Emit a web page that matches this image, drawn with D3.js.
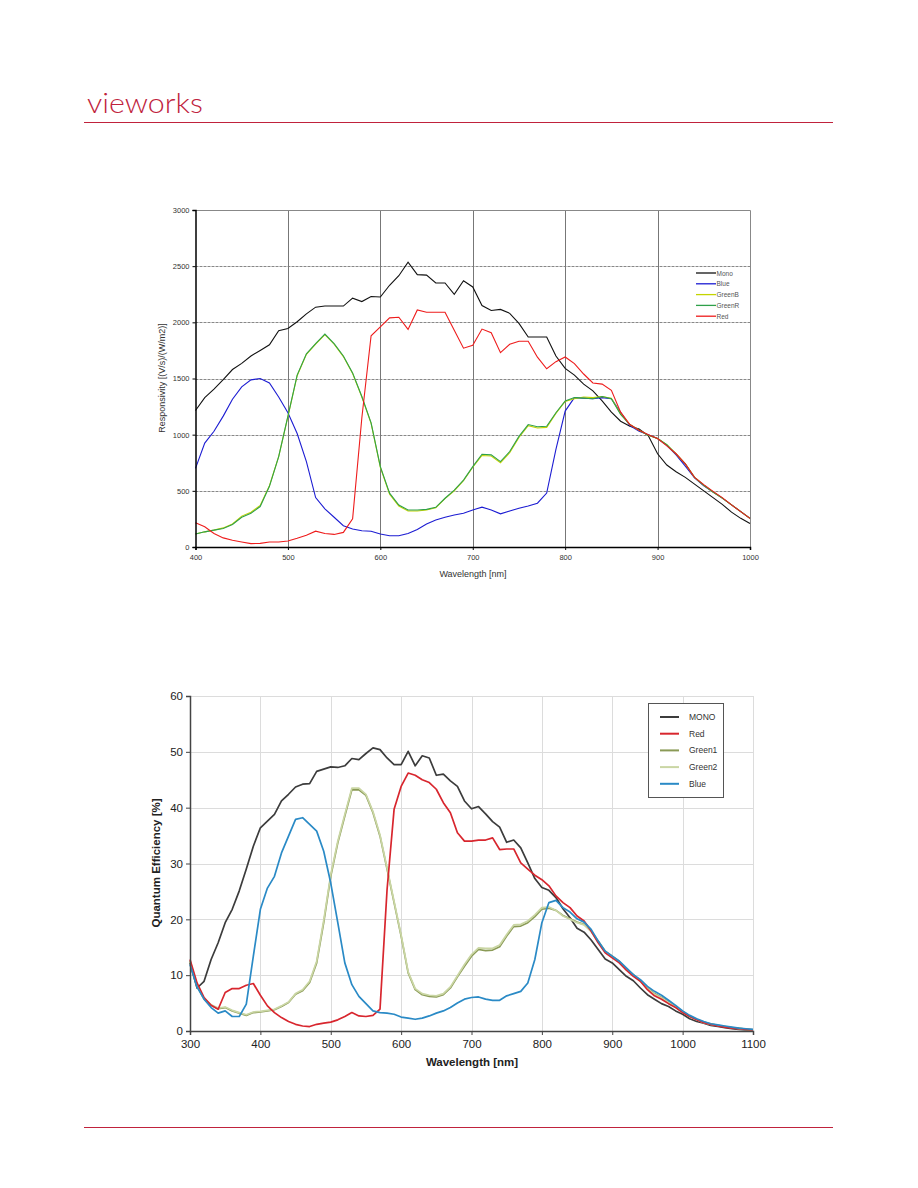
<!DOCTYPE html>
<html><head><meta charset="utf-8">
<script src="https://cdn.jsdelivr.net/npm/d3@7"></script>
<style>body{margin:0;background:#fff}svg{display:block}</style>
</head><body>
<svg id="c" width="918" height="1188"></svg>
<script>
// ---------- Top chart data (Responsivity), 400..1000 nm step 10 ----------
const wlTop = d3.range(400, 1001, 10);
const topMono = [1215,1330,1405,1490,1580,1635,1700,1750,1800,1925,1945,2005,2075,2135,2145,2145,2145,2215,2185,2230,2225,2330,2415,2535,2425,2420,2350,2350,2250,2370,2315,2150,2105,2115,2080,1990,1870,1870,1870,1700,1590,1530,1450,1390,1300,1200,1120,1075,1050,990,830,730,670,620,560,500,440,380,310,255,210];
const topBlue = [700,925,1030,1165,1315,1425,1488,1500,1460,1335,1195,1010,760,440,340,265,190,160,145,140,115,100,100,120,155,205,240,265,285,300,330,355,330,295,320,345,365,390,480,870,1210,1330,1325,1320,1330,1320,1200,1080,1030,1000,965,905,820,720,615,545,490,435,375,315,255];
const topGreenB = [115,135,150,170,205,275,310,370,545,805,1160,1525,1715,1805,1890,1805,1695,1545,1335,1100,710,470,365,320,320,330,350,430,500,590,710,815,810,750,840,975,1080,1060,1065,1190,1295,1320,1335,1330,1340,1325,1185,1090,1040,995,965,910,830,740,620,550,490,435,375,315,255];
const topGreenR = [115,135,150,165,200,265,300,360,540,805,1165,1530,1720,1810,1895,1810,1700,1550,1340,1105,716,479,374,330,330,335,353,434,506,596,716,826,820,760,850,985,1090,1070,1075,1195,1300,1330,1325,1320,1340,1320,1180,1090,1040,995,965,910,830,740,620,550,490,435,375,315,255];
const topRed = [216,180,120,81,60,45,30,32,45,45,54,78,105,141,120,112,130,250,1150,1880,1960,2040,2045,1937,2110,2090,2090,2090,1930,1770,1796,1940,1907,1730,1805,1832,1832,1690,1587,1650,1692,1632,1540,1460,1450,1395,1200,1090,1040,1000,965,900,830,740,620,555,495,440,375,315,255];
const topSeriesNames = ["Mono","Blue","GreenB","GreenR","Red"];
const topSeriesColors = ["#111111","#1c1cd2","#c4d400","#2fa04a","#ee1c1c"];
const topXTicks = [400,500,600,700,800,900,1000];
const topYTicks = [0,500,1000,1500,2000,2500,3000];

// ---------- Bottom chart data (Quantum Efficiency), 300..1100 nm step 10 ----------
const wlBot = d3.range(300, 1101, 10);
const qeMono = [12.2,7.7,8.9,12.8,15.8,19.4,21.8,25.1,29.0,33.1,36.4,37.6,38.8,41.2,42.4,43.7,44.2,44.3,46.5,46.9,47.3,47.2,47.5,48.8,48.6,49.7,50.7,50.4,48.9,47.7,47.7,50.1,47.5,49.3,48.9,45.8,46.0,44.8,43.8,41.2,39.8,40.2,38.9,37.5,36.5,33.8,34.2,32.8,30.1,27.3,25.7,25.2,23.9,21.9,20.3,18.4,17.7,16.3,14.6,12.9,12.2,11.0,9.8,9.0,7.7,6.5,5.7,4.9,4.4,3.6,3.0,2.2,1.7,1.4,1.0,0.8,0.6,0.4,0.3,0.2,0.1];
const qeRed = [12.8,8.6,6.0,4.6,3.9,6.9,7.6,7.6,8.2,8.5,6.4,4.5,3.3,2.4,1.7,1.2,0.9,0.8,1.2,1.4,1.6,2.0,2.6,3.3,2.7,2.6,2.8,3.9,25.3,39.7,43.8,46.2,45.8,45.0,44.5,43.3,40.9,39.1,35.5,34.0,34.0,34.2,34.2,34.6,32.5,32.6,32.6,30.1,29.0,27.9,27.1,26.0,24.2,23.0,22.1,20.6,19.7,17.9,15.8,14.0,13.1,12.2,10.9,9.8,8.9,7.4,6.3,5.7,4.9,4.2,3.3,2.6,2.0,1.5,1.2,0.9,0.7,0.5,0.4,0.3,0.2];
const qeGreen1 = [12.5,8.0,5.7,4.6,4.0,4.2,3.6,3.2,2.8,3.3,3.4,3.6,3.8,4.4,5.1,6.6,7.2,8.7,12.2,19.4,27.7,33.7,38.5,43.2,43.2,42.2,39.1,34.9,29.0,23.0,17.0,10.4,7.4,6.5,6.2,6.1,6.5,7.7,9.7,11.6,13.4,14.6,14.4,14.5,15.1,17.0,18.7,18.8,19.4,20.5,21.8,22.0,21.6,20.7,20.1,19.5,19.1,17.9,16.1,14.3,13.4,12.5,11.1,10.1,9.0,7.7,6.7,6.0,5.2,4.4,3.5,2.7,2.1,1.6,1.3,1.0,0.8,0.6,0.5,0.3,0.2];
const qeGreen2 = [12.6,8.1,5.8,4.7,4.1,4.3,3.7,3.3,2.9,3.4,3.5,3.7,3.9,4.5,5.2,6.7,7.4,8.9,12.5,19.8,28.0,34.0,38.8,43.5,43.5,42.4,39.3,35.1,29.2,23.2,17.2,10.6,7.6,6.7,6.4,6.3,6.7,7.9,9.9,11.9,13.7,14.9,14.8,14.8,15.4,17.3,19.0,19.1,19.7,20.8,22.1,22.2,21.6,20.6,20.0,19.4,19.0,17.8,16.0,14.2,13.3,12.4,11.0,10.0,8.9,7.6,6.6,5.9,5.1,4.3,3.4,2.6,2.0,1.5,1.2,1.0,0.8,0.6,0.4,0.3,0.2];
const qeBlue = [11.9,7.9,5.7,4.2,3.2,3.6,2.6,2.6,4.8,13.4,21.8,25.6,27.7,31.9,34.9,37.9,38.2,37.0,35.8,32.2,26.5,19.4,12.2,8.3,6.2,4.9,3.6,3.3,3.2,3.0,2.5,2.3,2.1,2.3,2.7,3.2,3.6,4.2,5.0,5.7,6.0,6.1,5.7,5.5,5.5,6.3,6.7,7.1,8.6,12.8,19.4,23.0,23.4,22.1,21.3,20.1,19.5,18.2,16.1,14.3,13.4,12.5,11.3,10.1,9.2,8.0,7.1,6.4,5.5,4.6,3.6,2.8,2.2,1.7,1.3,1.1,0.9,0.7,0.5,0.4,0.3];
const botSeriesNames = ["MONO","Red","Green1","Green2","Blue"];
const botSeriesColors = ["#3c3c3c","#d8262e","#8a9a56","#cad6a4","#2a8ac6"];
const botXTicks = [300,400,500,600,700,800,900,1000,1100];
const botYTicks = [0,10,20,30,40,50,60];

const svg = d3.select("#c");
const brand = "#c0223c";

// ---------- Header / footer ----------
svg.append("text").attr("x",87).attr("y",113).attr("font-family","Lato, 'Open Sans', sans-serif")
  .attr("font-size",28).attr("font-weight",300).attr("fill",brand).attr("textLength",116).attr("lengthAdjust","spacingAndGlyphs")
  .text("vieworks");
svg.append("line").attr("x1",84).attr("x2",833).attr("y1",122.5).attr("y2",122.5).attr("stroke",brand).attr("stroke-width",1);
svg.append("line").attr("x1",84).attr("x2",833).attr("y1",1127.5).attr("y2",1127.5).attr("stroke",brand).attr("stroke-width",1);

// ---------- Top chart ----------
(function(){
  const L=195.5, R=750, T=210, B=547;
  const x = d3.scaleLinear().domain([400,1000]).range([L,R]);
  const y = d3.scaleLinear().domain([0,3000]).range([B,T]);
  const g = svg.append("g");
  g.selectAll(".hg").data(topYTicks.filter(v=>v>0&&v<3000)).enter().append("line")
    .attr("x1",L).attr("x2",R).attr("y1",d=>Math.round(y(d))+0.5).attr("y2",d=>Math.round(y(d))+0.5)
    .attr("stroke","#888").attr("stroke-width",1).attr("stroke-dasharray","3,1");
  g.selectAll(".vg").data(topXTicks.filter(v=>v>400&&v<1000)).enter().append("line")
    .attr("x1",d=>Math.round(x(d))+0.5).attr("x2",d=>Math.round(x(d))+0.5).attr("y1",T).attr("y2",B)
    .attr("stroke","#777").attr("stroke-width",1);
  g.append("path").attr("d",`M${L},${T+0.5}H${R+0.5}V${B}`).attr("fill","none").attr("stroke","#888");
  const series=[topMono,topBlue,topGreenB,topGreenR,topRed];
  const line=d3.line().x((d,i)=>x(wlTop[i])).y(d=>y(d));
  series.forEach((s,k)=>{
    g.append("path").datum(s).attr("d",line).attr("fill","none").attr("stroke",topSeriesColors[k]).attr("stroke-width",1.1);
  });
  const ax = d3.axisBottom(x).tickValues(topXTicks).tickSize(3).tickFormat(d3.format("d"));
  const axg = g.append("g").attr("transform",`translate(0,${B})`).call(ax);
  axg.select(".domain").attr("stroke","#000").attr("stroke-width",1.5);
  axg.selectAll("text").attr("font-family","Liberation Sans, Arial, sans-serif").attr("font-size",7.5).attr("fill","#333").attr("dy","0.9em");
  const ay = d3.axisLeft(y).tickValues(topYTicks).tickSize(3).tickFormat(d3.format("d"));
  const ayg = g.append("g").attr("transform",`translate(${L},0)`).call(ay);
  ayg.select(".domain").attr("stroke","#000").attr("stroke-width",1.5);
  ayg.selectAll("text").attr("font-family","Liberation Sans, Arial, sans-serif").attr("font-size",7.5).attr("fill","#333");
  g.append("text").attr("x",473).attr("y",577).attr("text-anchor","middle").attr("font-family","Liberation Sans, Arial, sans-serif")
    .attr("font-size",9).attr("fill","#333").text("Wavelength [nm]");
  g.append("text").attr("transform","translate(165,378) rotate(-90)").attr("text-anchor","middle").attr("font-family","Liberation Sans, Arial, sans-serif")
    .attr("font-size",9).attr("fill","#333").text("Responsivity [(V/s)/(W/m2)]");
  const lg = g.append("g").attr("transform","translate(696,273)");
  topSeriesNames.forEach((n,k)=>{
    const yy=k*10.8;
    lg.append("line").attr("x1",0).attr("x2",20).attr("y1",yy).attr("y2",yy).attr("stroke",topSeriesColors[k]).attr("stroke-width",1.3);
    lg.append("text").attr("x",20.5).attr("y",yy+2.5).attr("font-family","Liberation Sans, Arial, sans-serif").attr("font-size",6.5).attr("fill","#555").text(n);
  });
})();

// ---------- Bottom chart ----------
(function(){
  const L=190, R=753, T=696, B=1031;
  const x = d3.scaleLinear().domain([300,1100]).range([L,R]);
  const y = d3.scaleLinear().domain([0,60]).range([B,T]);
  const g = svg.append("g");
  g.selectAll(".hg").data(botYTicks.filter(v=>v>0)).enter().append("line")
    .attr("x1",L).attr("x2",R).attr("y1",d=>Math.round(y(d))+0.5).attr("y2",d=>Math.round(y(d))+0.5)
    .attr("stroke","#dcdcdc").attr("stroke-width",1);
  g.selectAll(".vg").data(botXTicks.filter(v=>v>300)).enter().append("line")
    .attr("x1",d=>Math.round(x(d))+0.5).attr("x2",d=>Math.round(x(d))+0.5).attr("y1",T).attr("y2",B)
    .attr("stroke","#dcdcdc").attr("stroke-width",1);
  const series=[qeMono,qeRed,qeGreen1,qeGreen2,qeBlue];
  const line=d3.line().x((d,i)=>x(wlBot[i])).y(d=>y(d));
  [0,2,3,1,4].forEach(k=>{
    g.append("path").datum(series[k]).attr("d",line).attr("fill","none").attr("stroke",botSeriesColors[k]).attr("stroke-width",1.7).attr("stroke-linejoin","round");
  });
  const ax = d3.axisBottom(x).tickValues(botXTicks).tickSize(4).tickFormat(d3.format("d"));
  const axg = g.append("g").attr("transform",`translate(0,${B})`).call(ax);
  axg.select(".domain").attr("stroke","#444").attr("stroke-width",1.5);
  axg.selectAll(".tick line").attr("stroke","#444");
  axg.selectAll("text").attr("font-family","Liberation Sans, Arial, sans-serif").attr("font-size",11.5).attr("fill","#222").attr("dy","0.85em");
  const ay = d3.axisLeft(y).tickValues(botYTicks).tickSize(4).tickFormat(d3.format("d"));
  const ayg = g.append("g").attr("transform",`translate(${L},0)`).call(ay);
  ayg.select(".domain").attr("stroke","#444").attr("stroke-width",1.5);
  ayg.selectAll(".tick line").attr("stroke","#444");
  ayg.selectAll("text").attr("font-family","Liberation Sans, Arial, sans-serif").attr("font-size",11.5).attr("fill","#222");
  g.append("text").attr("x",472).attr("y",1066).attr("text-anchor","middle").attr("font-family","Liberation Sans, Arial, sans-serif")
    .attr("font-size",11.5).attr("font-weight","bold").attr("fill","#222").text("Wavelength [nm]");
  g.append("text").attr("transform","translate(160,863) rotate(-90)").attr("text-anchor","middle").attr("font-family","Liberation Sans, Arial, sans-serif")
    .attr("font-size",11.5).attr("font-weight","bold").attr("fill","#222").text("Quantum Efficiency [%]");
  const lg = g.append("g");
  lg.append("rect").attr("x",648.5).attr("y",703.5).attr("width",75).attr("height",94).attr("fill","#fff").attr("stroke","#555").attr("stroke-width",1);
  botSeriesNames.forEach((n,k)=>{
    const yy=717+k*16.7;
    lg.append("line").attr("x1",660).attr("x2",679).attr("y1",yy).attr("y2",yy).attr("stroke",botSeriesColors[k]).attr("stroke-width",2);
    lg.append("text").attr("x",689).attr("y",yy+3).attr("font-family","Liberation Sans, Arial, sans-serif").attr("font-size",8.5).attr("fill","#333").text(n);
  });
})();
</script>
</body></html>
